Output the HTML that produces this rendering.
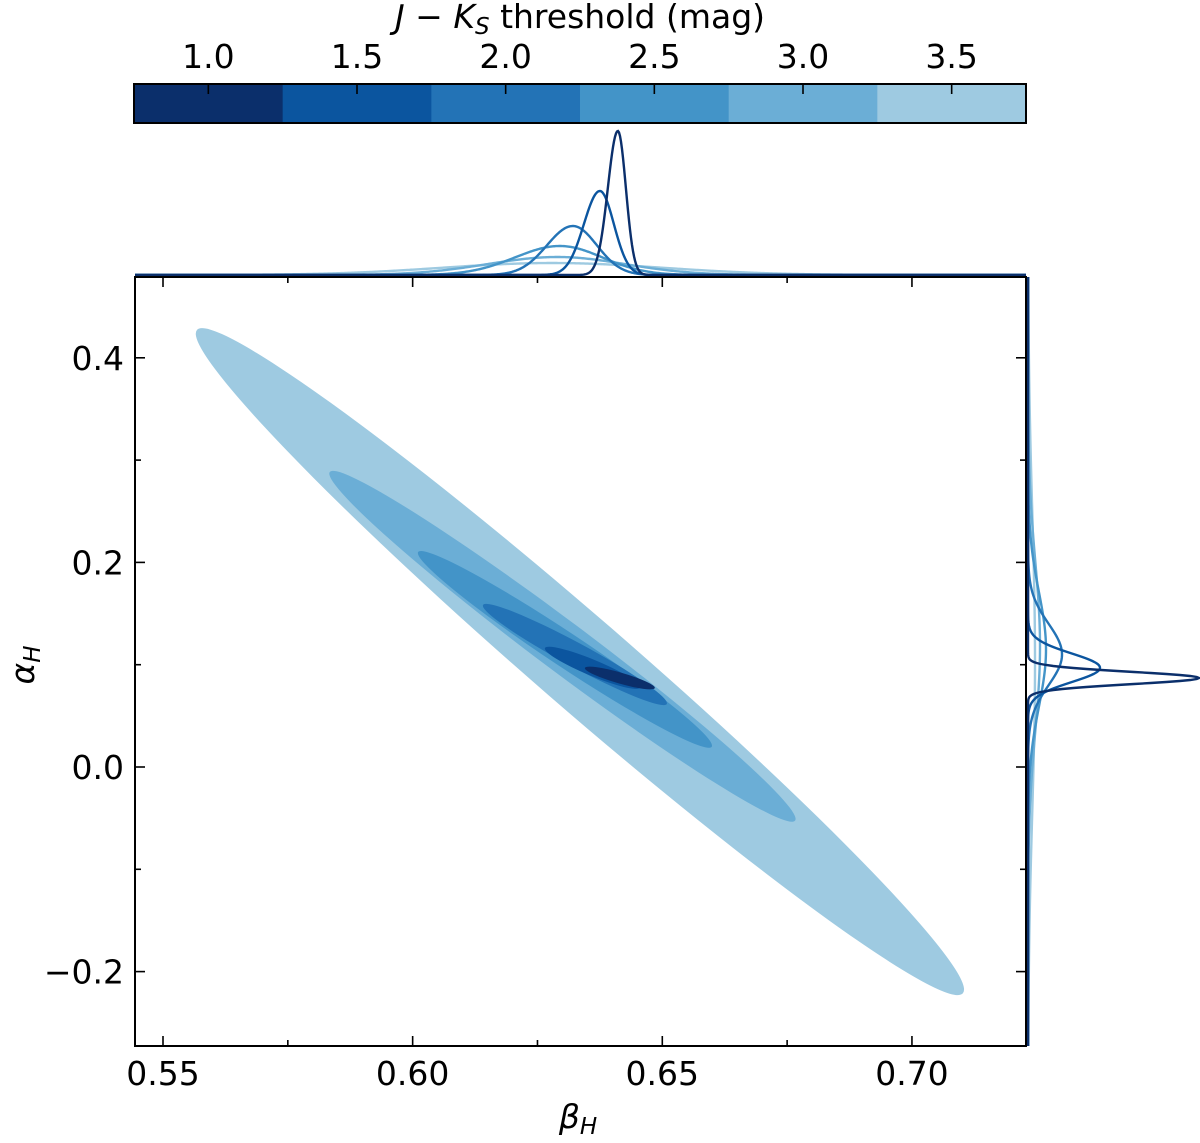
<!DOCTYPE html>
<html><head><meta charset="utf-8"><style>
body{margin:0;background:#fff}
svg text{font-family:"DejaVu Sans","Liberation Sans",sans-serif;fill:#000}
</style></head><body>
<svg id="chart" width="1200" height="1138" viewBox="0 0 1200 1138" xmlns="http://www.w3.org/2000/svg">
<g id="ellipses"></g>
<g id="marg-top"></g>
<g id="marg-right"></g>
<g id="axes"></g>
<g id="cbar"></g>
</svg>
<script>
const thresholds=[1.0,1.5,2.0,2.5,3.0,3.5];
const colors=["#0b2f6b","#0b559f","#2373b6","#4394c8","#6baed6","#9ecae1"];
const centerBeta=[0.6415,0.6360,0.6325,0.6305,0.6300,0.6335];
const centerAlpha=[0.087,0.097,0.110,0.115,0.118,0.103];
const tipBeta=[0.6345,0.6265,0.6141,0.6011,0.5834,0.5568];
const tipAlpha=[0.0968,0.1163,0.1584,0.2102,0.2884,0.4272];
const minorWidth=[0.0011,0.0016,0.0024,0.0034,0.0050,0.0092];
const margModeBeta=[0.6411,0.6375,0.6321,0.6295,0.6290,0.6280];
const margPeakTop=[144,84,49,29,18,12];
const margSigmaBetaLeft=[0.0020,0.0032,0.0052,0.0090,0.0140,0.0220];
const margSigmaBetaRight=[0.0016,0.0028,0.0048,0.0085,0.0135,0.0220];
const margPeakRight=[171,72,34,18,12,7];
const margSigmaAlpha=[0.006,0.014,0.030,0.056,0.083,0.147];
const xTicks=[0.55,0.60,0.65,0.70];
const xTickLabels=["0.55","0.60","0.65","0.70"];
const yTicks=[0.4,0.2,0.0,-0.2];
const yTickLabels=["0.4","0.2","0.0","\u22120.2"];
const cbTickLabels=["1.0","1.5","2.0","2.5","3.0","3.5"];

const L=135,R=1026,T=277,B=1046;
const sx=b=>163+(b-0.55)*4993;
const sy=a=>767-a*1023;
const NS="http://www.w3.org/2000/svg";
function mk(tag,attrs,parent){const e=document.createElementNS(NS,tag);for(const k in attrs)e.setAttribute(k,attrs[k]);parent.appendChild(e);return e;}

const ge=document.getElementById('ellipses');
for(let i=thresholds.length-1;i>=0;i--){
  const cx=sx(centerBeta[i]),cy=sy(centerAlpha[i]);
  const tx=sx(tipBeta[i]),ty=sy(tipAlpha[i]);
  const rx=Math.hypot(tx-cx,ty-cy);
  const ang=Math.atan2(ty-cy,tx-cx)*180/Math.PI;
  const ry=minorWidth[i]*4993;
  const e=mk('ellipse',{cx:cx,cy:cy,rx:rx,ry:ry,fill:colors[i],transform:`rotate(${ang} ${cx} ${cy})`},ge);
  
  
}

const gt=document.getElementById('marg-top');
for(let i=thresholds.length-1;i>=0;i--){
  let d='';
  for(let px=L;px<=R;px+=1){
    const b=0.55+(px-163)/4993;
    const s=b<margModeBeta[i]?margSigmaBetaLeft[i]:margSigmaBetaRight[i];
    const z=(b-margModeBeta[i])/s;
    const y=275-margPeakTop[i]*Math.exp(-0.5*z*z);
    d+=(px===L?'M':'L')+px+','+y.toFixed(2);
  }
  const p=mk('path',{d:d,fill:'none',stroke:colors[i],'stroke-width':2.4},gt);
  
  
}
const gr=document.getElementById('marg-right');
for(let i=thresholds.length-1;i>=0;i--){
  let d='';
  for(let py=T;py<=B;py+=1){
    const a=(767-py)/1023;
    const z=(a-centerAlpha[i])/margSigmaAlpha[i];
    const x=1028+margPeakRight[i]*Math.exp(-0.5*z*z);
    d+=(py===T?'M':'L')+x.toFixed(2)+','+py;
  }
  const p=mk('path',{d:d,fill:'none',stroke:colors[i],'stroke-width':2.4},gr);
  
  
}

const ga=document.getElementById('axes');
const frame=mk('rect',{x:L,y:T,width:R-L,height:B-T,fill:'none',stroke:'#000','stroke-width':2},ga);


for(let k=0;k<8;k++){
  const b=0.55+k*0.025;
  const x=sx(b);
  if(x>R-2)continue;
  const len=(k%2===0)?10:6;
  mk('line',{x1:x,y1:B,x2:x,y2:B-len,stroke:'#000','stroke-width':1.6},ga);
  mk('line',{x1:x,y1:T,x2:x,y2:T+len,stroke:'#000','stroke-width':1.6},ga);
}
for(let k=-2;k<=4;k++){
  const y=sy(k*0.1);
  const len=(k%2===0)?10:6;
  mk('line',{x1:L,y1:y,x2:L+len,y2:y,stroke:'#000','stroke-width':1.6},ga);
  mk('line',{x1:R,y1:y,x2:R-len,y2:y,stroke:'#000','stroke-width':1.6},ga);
}
xTicks.forEach((v,i)=>{
  const t=mk('text',{x:sx(v),y:1085,'font-size':33,'text-anchor':'middle'},ga);
  t.textContent=xTickLabels[i];
  
  
});
yTicks.forEach((v,i)=>{
  const t=mk('text',{x:124,y:sy(v)+12,'font-size':33,'text-anchor':'end'},ga);
  t.textContent=yTickLabels[i];
  
  
});
const xl=mk('text',{x:578,y:1128,'font-size':33,'text-anchor':'middle','font-style':'italic'},ga);
xl.innerHTML='β<tspan font-size="23" dy="6">H</tspan>';


const yl=mk('text',{x:0,y:0,'font-size':33,'text-anchor':'middle','font-style':'italic',transform:'translate(34,665) rotate(-90)'},ga);
yl.innerHTML='α<tspan font-size="23" dy="6">H</tspan>';



const gc=document.getElementById('cbar');
const cbL=134,cbR=1026,cbT=84,cbB=123,segW=(cbR-cbL)/thresholds.length;
thresholds.forEach((v,i)=>{
  const r=mk('rect',{x:cbL+i*segW,y:cbT,width:segW+0.5,height:cbB-cbT,fill:colors[i]},gc);
  
  
  const cx=cbL+(i+0.5)*segW;
  mk('line',{x1:cx,y1:cbT,x2:cx,y2:cbT+10,stroke:'#000','stroke-width':1.6},gc);
  const t=mk('text',{x:cx,y:68,'font-size':33,'text-anchor':'middle'},gc);
  t.textContent=cbTickLabels[i];
  
  
});
mk('rect',{x:cbL,y:cbT,width:cbR-cbL,height:cbB-cbT,fill:'none',stroke:'#000','stroke-width':2},gc);
const ct=mk('text',{x:580,y:28,'font-size':33,'text-anchor':'middle'},gc);
ct.innerHTML='<tspan font-style="italic">J</tspan> − <tspan font-style="italic">K</tspan><tspan font-style="italic" font-size="23" dy="6">S</tspan><tspan dy="-6"> threshold (mag)</tspan>';


</script>
</body></html>
